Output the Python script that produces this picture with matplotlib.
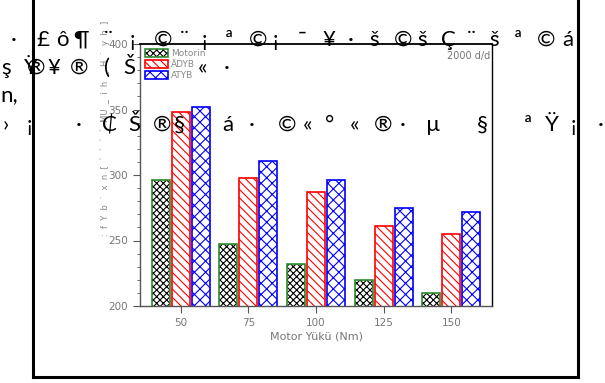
import numpy as np
import matplotlib
matplotlib.use("Agg")
import matplotlib.pyplot as plt
from matplotlib.lines import Line2D
from matplotlib.patches import Patch

loads = [50, 75, 100, 125, 150]
motorin = [296, 247, 232, 220, 210]
adyb = [348, 298, 287, 261, 255]
atyb = [352, 311, 296, 275, 272]
series_names = ["Motorin", "ÄDYB", "ATYB"]

# garbled text rows as they appear on the page: (x px, glyph)
row1 = [(14, "·"), (43, "£"), (62, "ô"), (81, "¶"), (108, "¨"), (132, "¡"), (163, "©"),
        (184, "¨"), (204, "¡"), (229, "ª"), (258, "©"), (275, "¡"), (302, "¯"), (329, "¥"),
        (351, "·"), (374, "š"), (403, "©"), (422, "š"), (448, "Ç"), (471, "¨"), (494, "š"),
        (518, "ª"), (546, "©"), (568, "á")]
row2 = [(6, "ş"), (31, "Ÿ"), (36, "®"), (54, "¥"), (79, "®"), (107, "("), (129, "Š"),
        (203, "«"), (227, "·")]
row3 = [(9, "n,")]
row4 = [(6, "›"), (29, "¡"), (79, "·"), (110, "₵"), (134, "Š"), (162, "®"), (179, "§"),
        (228, "á"), (252, "·"), (287, "©"), (308, "«"), (330, "°"), (355, "«"), (383, "®"),
        (403, "·"), (433, "µ"), (482, "§"), (528, "ª"), (552, "Ÿ"), (573, "¡"), (601, "·")]
ylabel_text = ":  f  Y  b  ˙  x  n  [  `  `  `  `  MU  _  i  h  _  H  ˙  y  h  ]"

W, H = 605, 383
fig = plt.figure(figsize=(W / 100, H / 100), dpi=100)
ax = fig.add_axes([140 / W, 1 - 306 / H, (492 - 140) / W, (306 - 44) / H])

plt.rcParams['hatch.linewidth'] = 0.8
x = np.array(loads, dtype=float)
bw = 6.6
step = 7.4

# Motorin: black hatch, green outline
ax.bar(x - step, motorin, bw, color='white', edgecolor='black', hatch='xxxxx', lw=0)
ax.bar(x - step, motorin, bw, fill=False, edgecolor='#2e8b2e', lw=1.2)
ax.bar(x, adyb, bw, color='white', edgecolor='red', hatch='\\\\\\\\', lw=1.2)
ax.bar(x + step, atyb, bw, color='white', edgecolor='blue', hatch='xxx', lw=1.2)

ax.set_xlim(35, 165)
ax.set_ylim(200, 400)
ax.set_xticks(loads)
ax.set_yticks([200, 250, 300, 350, 400])
ax.set_yticks(np.arange(200, 401, 10), minor=True)
ax.tick_params(axis='both', colors='#555555', labelcolor='#777777', labelsize=7.5, direction='out', length=5)
ax.tick_params(axis='y', which='minor', length=2.5, colors='#555555')
ax.tick_params(axis='x', which='minor', length=0)
for s in ['left', 'bottom']:
    ax.spines[s].set_color('#555555')
    ax.spines[s].set_linewidth(1.0)
ax.spines['top'].set_linewidth(1.3)
ax.spines['right'].set_linewidth(1.0)
ax.set_xlabel("Motor Yükü (Nm)", fontsize=8, color='#777777', labelpad=3)

h1 = (Patch(facecolor='white', edgecolor='black', hatch='xxxxx', lw=0),
      Patch(fill=False, edgecolor='#2e8b2e', lw=1.2))
h2 = Patch(facecolor='white', edgecolor='red', hatch='\\\\\\\\', lw=1.2)
h3 = Patch(facecolor='white', edgecolor='blue', hatch='xxx', lw=1.2)
leg = ax.legend([h1, h2, h3], series_names, loc='upper left', frameon=False, fontsize=6.5,
                handlelength=2.6, handleheight=1.0, handletextpad=0.3, labelspacing=0.25,
                borderaxespad=0.3, borderpad=0.2, labelcolor='#888888')
ax.text(0.995, 0.955, "2000 d/d", transform=ax.transAxes, ha='right', va='center',
        fontsize=7, color='#777777')

fig.text(105 / W, 1 - 128 / H, ylabel_text, rotation=90, ha='center', va='center',
         fontsize=6, color='#888888')

# outer frame
frame = dict(color='black', lw=2.2, transform=fig.transFigure, clip_on=False)
fig.add_artist(Line2D([33 / W, 33 / W], [1.0, 1 - 377 / H], **frame))
fig.add_artist(Line2D([33 / W, 578 / W], [1 - 377 / H, 1 - 377 / H], **frame))
fig.add_artist(Line2D([578 / W, 578 / W], [1 - 377 / H, 1.0], **frame))

for ypix, row in [(40, row1), (68, row2), (95, row3), (125, row4)]:
    for xp, g in row:
        fig.text(xp / W, 1 - ypix / H, g, ha='center', va='center', fontsize=16,
                 color='black', family=['Lato', 'Noto Sans', 'DejaVu Sans'])

fig.savefig("out.png", dpi=100)
